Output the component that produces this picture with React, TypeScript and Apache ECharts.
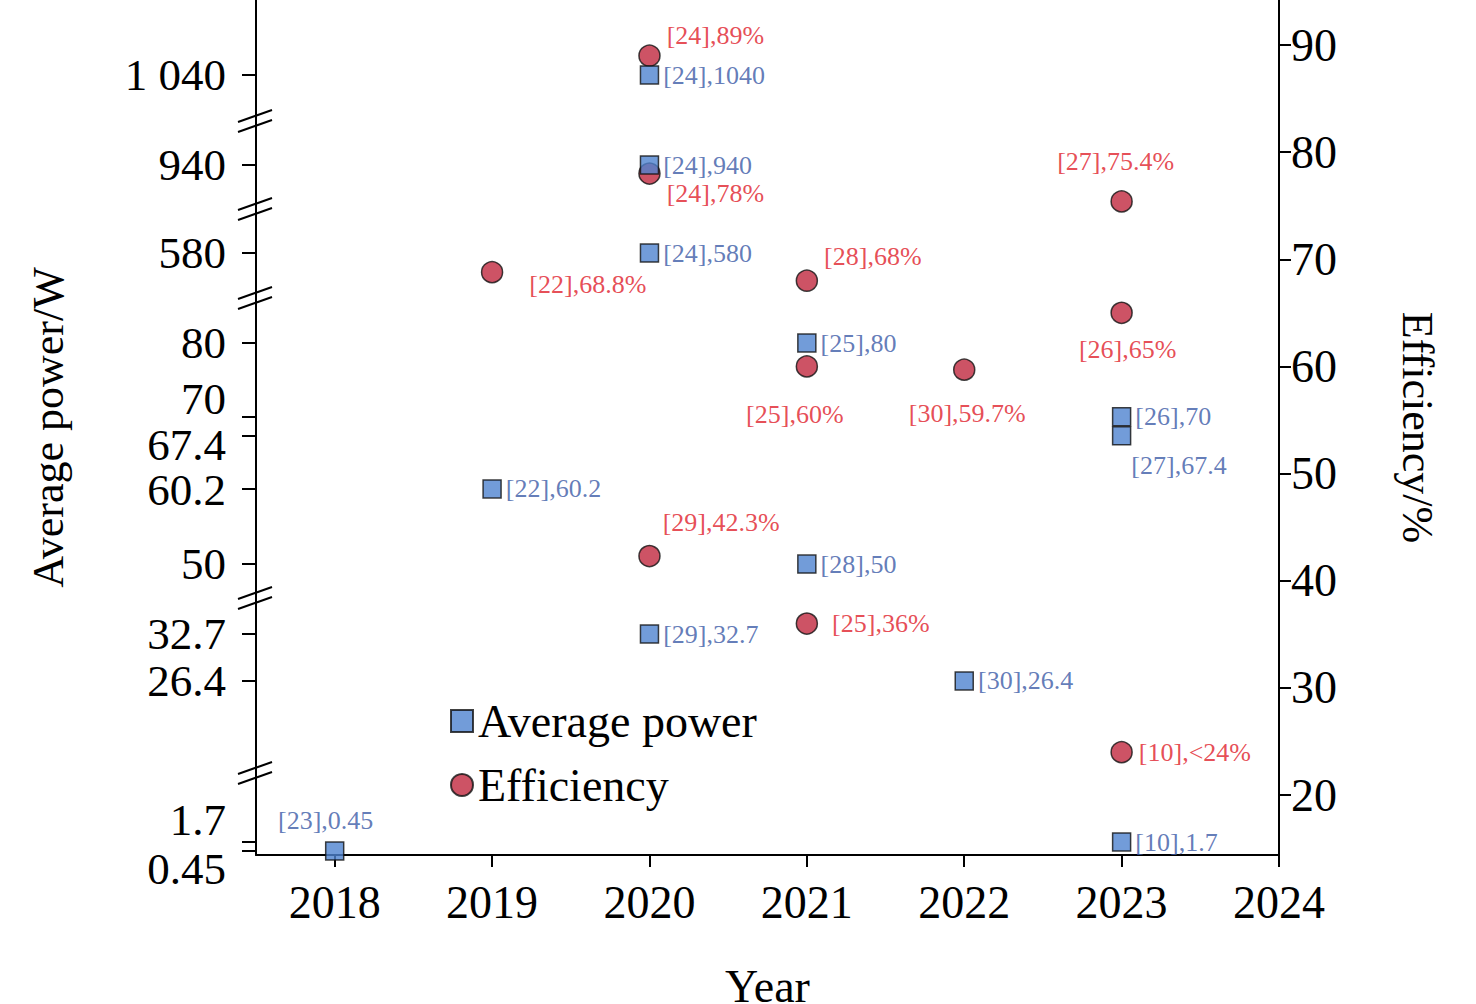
import { useEffect, useRef } from "react";
import * as echarts from "echarts";

const YEAR_TICKS = [2018, 2019, 2020, 2021, 2022, 2023, 2024];
const POWER_YEARS = [2018, 2019, 2020, 2020, 2020, 2020, 2021, 2021, 2022, 2023, 2023, 2023];
const POWER_VALUES = [0.45, 60.2, 1040, 940, 580, 32.7, 80, 50, 26.4, 70, 67.4, 1.7];
const POWER_REFS = ["[23]", "[22]", "[24]", "[24]", "[24]", "[29]", "[25]", "[28]", "[30]", "[26]", "[27]", "[10]"];
const EFF_YEARS = [2019, 2020, 2020, 2020, 2021, 2021, 2021, 2022, 2023, 2023, 2023];
const EFF_VALUES = [68.8, 89, 78, 42.3, 68, 60, 36, 59.7, 75.4, 65, 24];
const EFF_TEXT = ["[22],68.8%", "[24],89%", "[24],78%", "[29],42.3%", "[28],68%", "[25],60%", "[25],36%", "[30],59.7%", "[27],75.4%", "[26],65%", "[10],<24%"];
const POWER_TICKS = [1040, 940, 580, 80, 70, 67.4, 60.2, 50, 32.7, 26.4, 1.7, 0.45];
const EFF_TICKS = [20, 30, 40, 50, 60, 70, 80, 90];

const FONT = "Liberation Serif";
const H = 855;

// broken axis: value -> pixel units from the bottom of the plot
function toU(v: number): number {
  let y: number;
  if (v >= 1000) y = 75 + (1040 - v) * 0.9;
  else if (v >= 900) y = 165 + (940 - v) * 0.9;
  else if (v >= 500) y = 253 + (580 - v) * 0.9;
  else if (v >= 45) y = 343 + (80 - v) * 7.37;
  else if (v >= 20) y = 634 + (32.7 - v) * 7.46;
  else y = 851 - (v - 0.45) * 7.2;
  return H - y;
}

// label positions differ from tick positions where labels would overlap
const LEFT_LABELS: [number, string][] = [
  [780, "1 040"], [690, "940"], [602, "580"], [512, "80"], [456, "70"], [410, "67.4"],
  [365, "60.2"], [291, "50"], [221, "32.7"], [174, "26.4"], [35, "1.7"], [0, "{b|0.45}"],
];

const POWER_LABEL: Record<number, any> = {
  0: { position: "top", offset: [-9, -4] },
  10: { position: "right", offset: [-4, 30] },
};
const EFF_LABEL: any[] = [
  { position: "right", offset: [20, 12] },
  { position: "right", offset: [0, -20] },
  { position: "right", offset: [0, 20] },
  { position: "right", offset: [-4, -34] },
  { position: "right", offset: [0, -24] },
  { position: "bottom", offset: [-12, 18] },
  { position: "right", offset: [8, 0] },
  { position: "bottom", offset: [3, 14] },
  { position: "top", offset: [-6, -10] },
  { position: "bottom", offset: [6, 6] },
  { position: "right", offset: [0, 0] },
];

const BREAKS = [120, 208, 297, 597, 772];

export default function App() {
  const ref = useRef<HTMLDivElement>(null);
  useEffect(() => {
    document.body.style.margin = "0";
    if (!ref.current) return;
    const chart = echarts.init(ref.current, null, { renderer: "svg" });
    const axisLine = { show: true, lineStyle: { color: "#000", width: 2 } };
    const breakMarks = BREAKS.map((y) => ({
      type: "group",
      children: [
        { type: "rect", shape: { x: 245, y: y - 8, width: 22, height: 16 }, style: { fill: "#fff" } },
        { type: "line", shape: { x1: 238, y1: y + 2, x2: 272, y2: y - 10 }, style: { stroke: "#000", lineWidth: 2 } },
        { type: "line", shape: { x1: 238, y1: y + 12, x2: 272, y2: y }, style: { stroke: "#000", lineWidth: 2 } },
      ],
    }));
    const labelMap = new Map(LEFT_LABELS.map(([u, t]) => [u, t]));
    chart.setOption({
      animation: false,
      backgroundColor: "#fff",
      textStyle: { fontFamily: FONT },
      grid: { left: 256, right: 197, top: 0, bottom: 149, outerBoundsMode: "none", containLabel: false },
      legend: {
        orient: "vertical",
        left: 445,
        top: 693,
        itemGap: 18,
        itemWidth: 22,
        itemHeight: 22,
        textStyle: { fontFamily: FONT, fontSize: 46, color: "#000" },
        data: ["Average power", "Efficiency"],
      },
      xAxis: {
        type: "value",
        min: 2017.5,
        max: 2024,
        name: "Year",
        nameLocation: "middle",
        nameGap: 108,
        nameTextStyle: { fontFamily: FONT, fontSize: 46, color: "#000" },
        axisLine,
        splitLine: { show: false },
        axisTick: { show: true, length: 12, lineStyle: { width: 2, color: "#000" }, customValues: YEAR_TICKS },
        axisLabel: { customValues: YEAR_TICKS, formatter: (v: number) => String(v), fontFamily: FONT, fontSize: 46, color: "#000", margin: 24 },
      },
      yAxis: [
        {
          type: "value",
          min: 0,
          max: H,
          name: "Average power/W",
          nameLocation: "middle",
          nameGap: 186,
          nameTextStyle: { fontFamily: FONT, fontSize: 44, color: "#000" },
          axisLine,
          splitLine: { show: false },
          axisTick: { show: true, length: 14, lineStyle: { width: 2, color: "#000" }, customValues: POWER_TICKS.map(toU) },
          axisLabel: {
            customValues: LEFT_LABELS.map((l) => l[0]),
            formatter: (u: number) => labelMap.get(u) ?? "",
            fontFamily: FONT,
            fontSize: 45,
            color: "#000",
            margin: 30,
            rich: { b: { fontFamily: FONT, fontSize: 45, color: "#000", padding: [28, 0, 0, 0] } },
          },
        },
        {
          type: "value",
          min: 14.4,
          max: 94.2,
          position: "right",
          name: "Efficiency/%",
          nameLocation: "middle",
          nameGap: 116,
          nameRotate: -90,
          nameTextStyle: { fontFamily: FONT, fontSize: 44, color: "#000" },
          axisLine,
          splitLine: { show: false },
          axisTick: { show: true, length: 12, lineStyle: { width: 2, color: "#000" }, customValues: EFF_TICKS },
          axisLabel: { customValues: EFF_TICKS, fontFamily: FONT, fontSize: 46, color: "#000", margin: 12 },
        },
      ],
      series: [
        {
          name: "Average power",
          type: "scatter",
          yAxisIndex: 0,
          symbol: "rect",
          symbolSize: 18,
          z: 3,
          itemStyle: { color: "#4f83cf", borderColor: "#111", borderWidth: 1.5 },
          label: { show: true, position: "right", distance: 4, fontFamily: FONT, fontSize: 26, color: "#3b5aa6" },
          data: POWER_VALUES.map((v, i) => ({
            value: [POWER_YEARS[i], toU(v)],
            label: { formatter: POWER_REFS[i] + "," + v, ...(POWER_LABEL[i] || {}) },
          })),
        },
        {
          name: "Efficiency",
          type: "scatter",
          yAxisIndex: 1,
          symbol: "circle",
          symbolSize: 21,
          z: 2,
          itemStyle: { color: "#c1283e", borderColor: "#111", borderWidth: 1.5 },
          label: { show: true, position: "right", distance: 6, fontFamily: FONT, fontSize: 26, color: "#e0202a" },
          data: EFF_VALUES.map((v, i) => ({
            value: [EFF_YEARS[i], v],
            label: { formatter: EFF_TEXT[i], ...EFF_LABEL[i] },
          })),
        },
      ],
      graphic: breakMarks,
    });
    return () => chart.dispose();
  }, []);
  return <div ref={ref} style={{ width: 1476, height: 1004 }} />;
}
